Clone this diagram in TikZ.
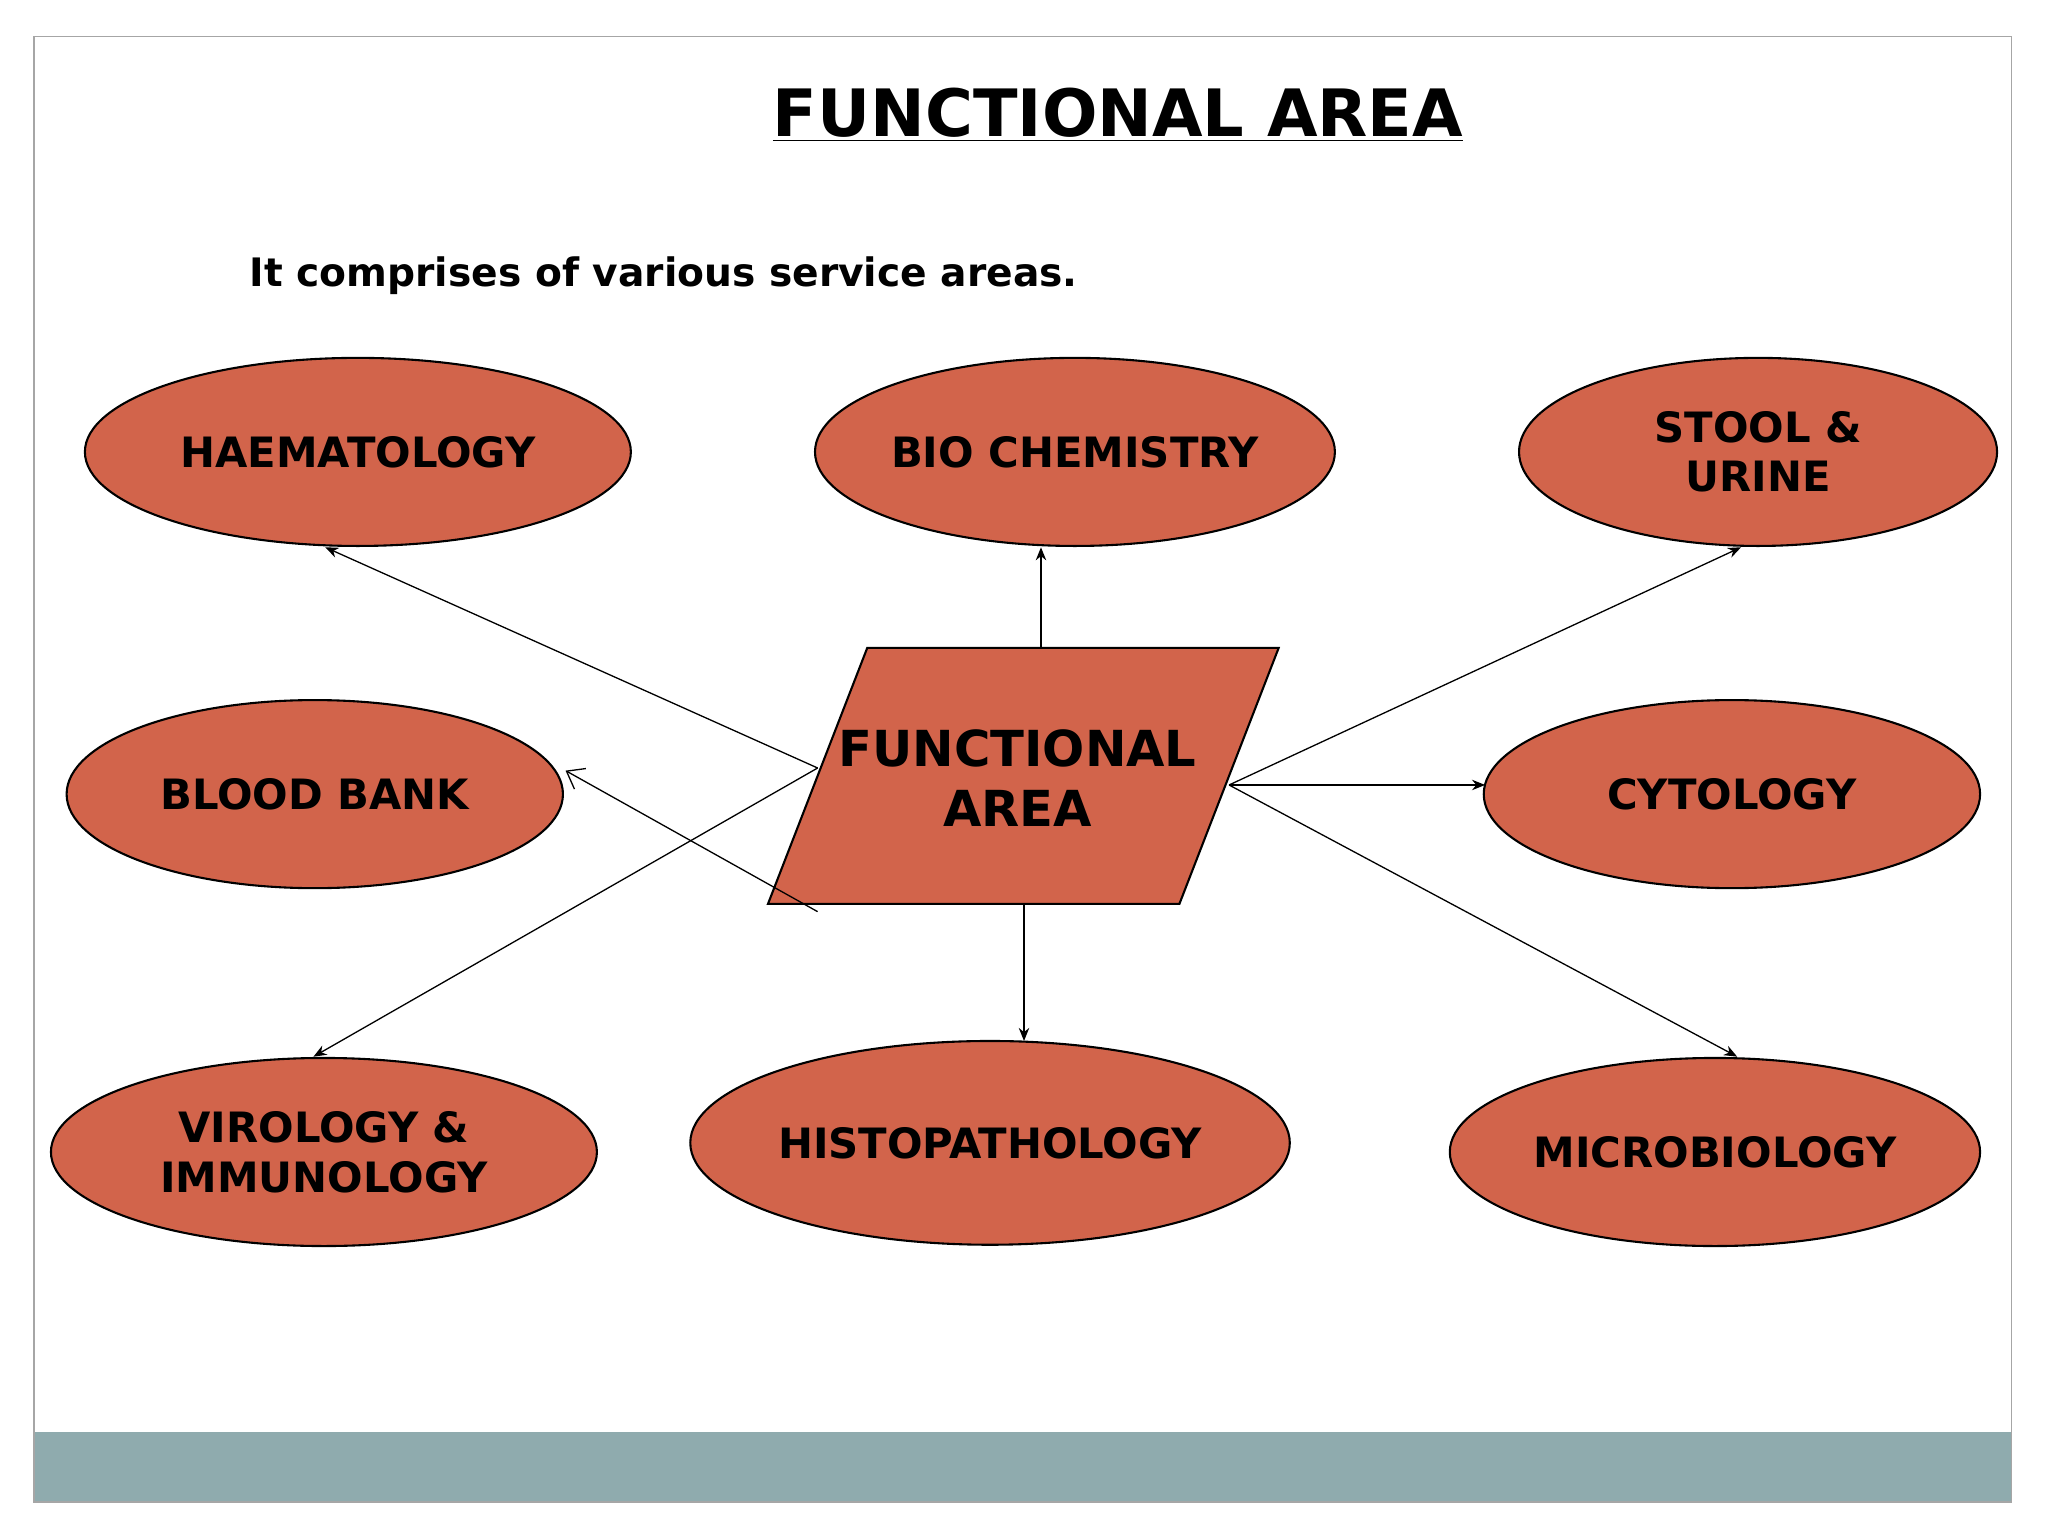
\documentclass[tikz,border=0pt]{standalone}
\usepackage{fontspec}
\setmainfont{DejaVu Sans}
\usetikzlibrary{shapes.geometric,arrows.meta}
\definecolor{ov}{HTML}{D2644B}
\definecolor{band}{HTML}{8FABAE}
\begin{document}
\begin{tikzpicture}[x=0.5pt,y=-0.5pt,
  ov/.style={ellipse,draw=black,fill=ov,line width=0.8pt,inner sep=0pt,font=\fontsize{16}{19}\selectfont\bfseries,align=center},
  ar/.style={-{Stealth[length=5pt,width=4pt]},line width=0.5pt}]
\useasboundingbox (0,0) rectangle (1568,1176);
\fill[white] (0,0) rectangle (1568,1176);
\fill[band] (26,1096) rectangle (1540,1150);
\draw[gray!70,line width=0.6pt] (26,28) rectangle (1540,1150);
\node[font=\fontsize{25}{30}\selectfont\bfseries] (title) at (856,88) {\underline{FUNCTIONAL AREA}};
\node[anchor=west,font=\fontsize{15}{18}\selectfont\bfseries] (sub) at (184,211) {It comprises of various service areas.};
\node[ov,minimum width=209pt,minimum height=72pt] (haem) at (274,346) {HAEMATOLOGY};
\node[ov,minimum width=196pt,minimum height=72pt] (bio) at (823,346) {BIO CHEMISTRY};
\node[ov,minimum width=183pt,minimum height=72pt] (stool) at (1346,346) {STOOL \&\\URINE};
\node[ov,minimum width=190pt,minimum height=72pt] (blood) at (241,608) {BLOOD BANK};
\node[ov,minimum width=190pt,minimum height=72pt] (cyto) at (1326,608) {CYTOLOGY};
\node[ov,minimum width=209pt,minimum height=72pt] (viro) at (248,882) {VIROLOGY \&\\IMMUNOLOGY};
\node[ov,minimum width=209pt,minimum height=78pt] (histo) at (758,875) {HISTOPATHOLOGY};
\node[ov,minimum width=203pt,minimum height=72pt] (micro) at (1313,882) {MICROBIOLOGY};
\draw[fill=ov,line width=0.8pt] (664,496) -- (979,496) -- (903,692) -- (588,692) -- cycle;
\node[font=\fontsize{19}{23}\selectfont\bfseries,align=center] (fa) at (779,596) {FUNCTIONAL\\AREA};
\coordinate (l1) at (626,588); \coordinate (t1) at (797,496);
\coordinate (r1) at (941,601); \coordinate (l2) at (626,698);
\coordinate (b1) at (784,692);
\coordinate (eh) at (249,419); \coordinate (eb) at (797,419);
\coordinate (es) at (1333,419); \coordinate (ebl) at (433,590);
\coordinate (ec) at (1137,601); \coordinate (ev) at (240,809);
\coordinate (ehi) at (784,797); \coordinate (em) at (1330,809);
\draw[ar] (l1) -- (eh);
\draw[ar] (t1) -- (eb);
\draw[ar] (r1) -- (es);
\draw[-{Straight Barb[length=6pt,width=9pt]},line width=0.5pt] (l2) -- (ebl);
\draw[ar] (r1) -- (ec);
\draw[ar] (l1) -- (ev);
\draw[ar] (b1) -- (ehi);
\draw[ar] (r1) -- (em);
\end{tikzpicture}
\end{document}
